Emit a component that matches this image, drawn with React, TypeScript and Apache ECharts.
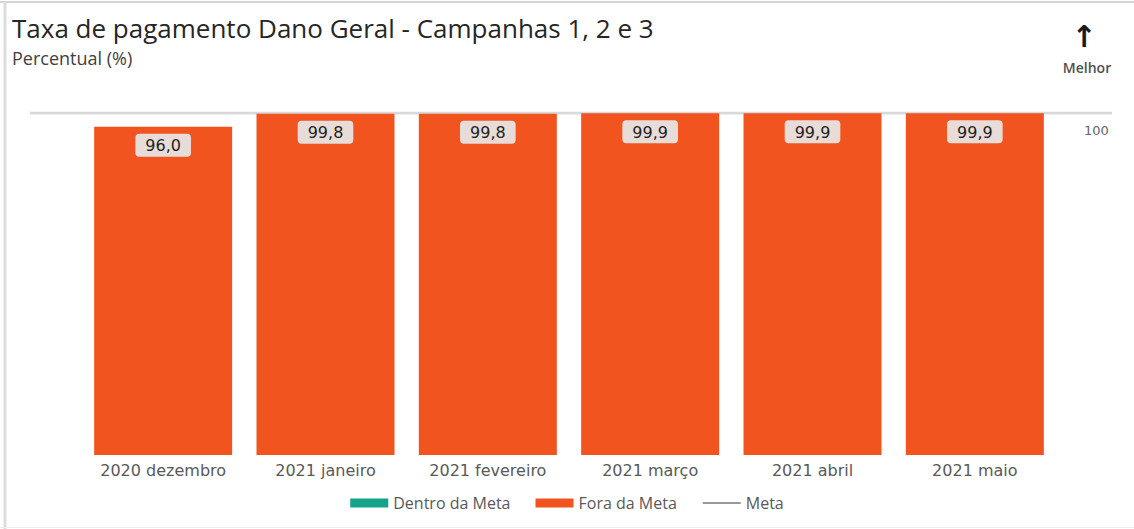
import React, { useEffect, useRef } from "react";
import * as echarts from "echarts";

const categories = [
  "2020 dezembro",
  "2021 janeiro",
  "2021 fevereiro",
  "2021 março",
  "2021 abril",
  "2021 maio",
];
const foraDaMeta = [96.0, 99.8, 99.8, 99.9, 99.9, 99.9];
const dentroDaMeta: (number | null)[] = [null, null, null, null, null, null];
const metaValue = 100;
const metaLine = [
  [0, metaValue],
  [1, metaValue],
];

export default function App() {
  const ref = useRef<HTMLDivElement>(null);
  useEffect(() => {
    if (!ref.current) return;
    const chart = echarts.init(ref.current, null, { renderer: "svg" });
    chart.setOption({
      animation: false,
      backgroundColor: "#ffffff",
      title: {
        text: "Taxa de pagamento Dano Geral - Campanhas 1, 2 e 3",
        subtext: "Percentual (%)",
        left: 7,
        top: 10,
        itemGap: 8,
        textStyle: {
          fontFamily: "Open Sans",
          fontSize: 26,
          fontWeight: "normal",
          color: "#262626",
        },
        subtextStyle: {
          fontFamily: "Open Sans",
          fontSize: 18,
          color: "#404040",
        },
      },
      legend: {
        bottom: 13,
        left: "center",
        itemWidth: 38,
        itemHeight: 9,
        itemGap: 25,
        textStyle: { fontFamily: "Open Sans", fontSize: 16, color: "#595959" },
        data: [
          { name: "Dentro da Meta", icon: "rect" },
          { name: "Fora da Meta", icon: "rect" },
          {
            name: "Meta",
            lineStyle: { color: "#9a9a9a", width: 2 },
            itemStyle: { opacity: 0 },
          },
        ],
      },
      grid: [
        { left: 82, right: 78, top: 113, bottom: 74, containLabel: false },
        { left: 30, right: 22, top: 113, bottom: 74, containLabel: false },
      ],
      xAxis: [
        {
          type: "category",
          gridIndex: 0,
          data: categories,
          axisTick: { show: false },
          axisLine: { show: false },
          axisLabel: {
            interval: 0,
            hideOverlap: false,
            fontFamily: "DejaVu Sans",
            fontSize: 16,
            color: "#595959",
            margin: 7,
          },
        },
        { type: "value", gridIndex: 1, min: 0, max: 1, show: false },
      ],
      yAxis: [
        {
          type: "value",
          gridIndex: 0,
          position: "right",
          min: 0,
          max: 100,
          interval: 100,
          splitLine: { show: false },
          axisLine: { show: false },
          axisTick: { show: false },
          axisLabel: {
            margin: 28,
            fontFamily: "DejaVu Sans",
            fontSize: 13,
            color: "#666666",
            verticalAlign: "top",
            padding: [11, 0, 0, 0],
            formatter: (v: number) => (v === 100 ? "100" : ""),
          },
        },
        { type: "value", gridIndex: 1, min: 0, max: 100, show: false },
      ],
      series: [
        {
          name: "Dentro da Meta",
          type: "bar",
          stack: "s",
          xAxisIndex: 0,
          yAxisIndex: 0,
          barWidth: 138,
          itemStyle: { color: "#13A38A" },
          data: dentroDaMeta,
        },
        {
          name: "Fora da Meta",
          type: "bar",
          stack: "s",
          xAxisIndex: 0,
          yAxisIndex: 0,
          barWidth: 138,
          itemStyle: { color: "#F1541E" },
          data: foraDaMeta,
          label: {
            show: true,
            position: "insideTop",
            distance: 7,
            backgroundColor: "#E8DCD8",
            borderRadius: 4,
            padding: [4, 10, 3, 10],
            fontFamily: "DejaVu Sans",
            fontSize: 16,
            color: "#1f1f1f",
            formatter: (p: any) => p.value.toFixed(1).replace(".", ","),
          },
        },
        {
          name: "Meta",
          type: "line",
          xAxisIndex: 1,
          yAxisIndex: 1,
          symbol: "none",
          silent: true,
          z: 1,
          lineStyle: { color: "#d9d9d9", width: 3 },
          itemStyle: { color: "#9a9a9a" },
          data: metaLine,
        },
      ],
      graphic: [
        {
          type: "line",
          shape: { x1: 0, y1: 2, x2: 1134, y2: 2 },
          style: { stroke: "#d4d4d4", lineWidth: 2 },
        },
        {
          type: "line",
          shape: { x1: 5, y1: 2, x2: 5, y2: 529 },
          style: { stroke: "#dcdcdc", lineWidth: 3 },
        },
        {
          type: "line",
          shape: { x1: 0, y1: 527.5, x2: 1134, y2: 527.5 },
          style: { stroke: "#eeeeee", lineWidth: 1 },
        },
        {
          type: "text",
          x: 1084,
          y: 36,
          style: {
            text: "↑",
            font: "bold 30px 'DejaVu Sans'",
            fill: "#1a1a1a",
            align: "center",
            verticalAlign: "middle",
          },
        },
        {
          type: "text",
          x: 1087,
          y: 67,
          style: {
            text: "Melhor",
            font: "600 14px 'Open Sans'",
            fill: "#505050",
            align: "center",
            verticalAlign: "middle",
          },
        },
      ],
    });
    return () => chart.dispose();
  }, []);
  return (
    <div
      ref={ref}
      style={{ position: "absolute", left: 0, top: 0, width: 1134, height: 529 }}
    />
  );
}
